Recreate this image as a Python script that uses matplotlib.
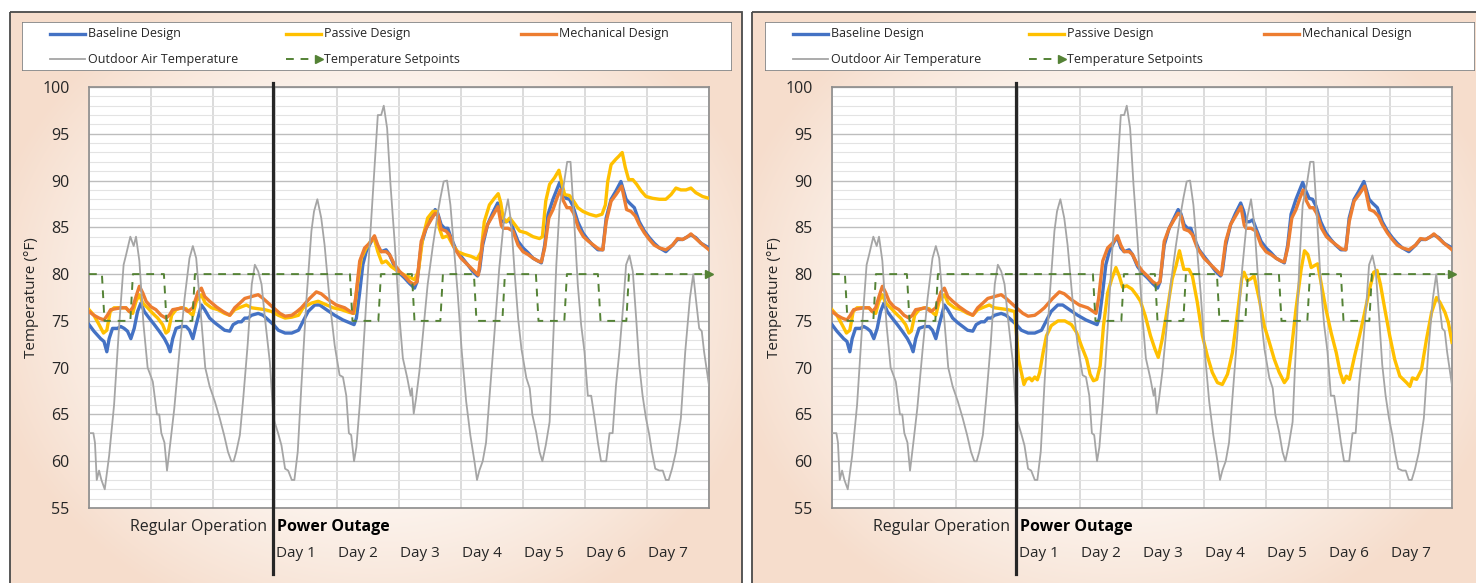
import numpy as np
import matplotlib.pyplot as plt
import matplotlib
from matplotlib.patches import Rectangle
from matplotlib.lines import Line2D

matplotlib.rcParams['font.family'] = ['Open Sans', 'DejaVu Sans']

# ---- data (hours since start, deg F) ----
outdoor_h = [0, 1.7, 2.3, 3, 3.9, 4.8, 6.1, 7.8, 9.7, 11.7, 13.4, 14.3, 16, 17.3, 18.2, 19.5, 21.1, 22.7,
             24.7, 26.3, 27.2, 28, 29.2, 30.2, 31.5, 33, 35, 37, 38.9, 40.2, 41.5, 43.2, 45, 46.7,
             48.7, 50.6, 52.3, 53.8, 55.1, 56, 57, 58.4, 59.7, 61.4, 63, 64.2, 65.5, 66.8, 68.1, 70, 71.4,
             73.2, 74.5, 75.9, 77.1, 78.5, 79.5, 80.8, 82.2, 84.2, 86.1, 87.1, 88.4, 89.9, 91.2, 93.2, 95.1,
             97, 98.3, 99.6, 100.6, 101.5, 102.6, 103.5, 104.8, 106.7, 108.6, 110.5, 111.8, 113.1, 114.1,
             115.4, 116.7, 118.3, 120.2, 121.5, 123.2, 124.5, 125, 125.7, 126.6, 127.9, 129.6, 131.1,
             133.1, 134.7, 136, 137.3, 138.6, 139.9, 141.2, 142.7, 144.3, 146, 147.6, 149.2, 150.2,
             151.1, 152.4, 153.7, 154.9, 156.9, 158.8, 160.7, 162.2, 163.5, 164.8, 166.1, 167.4, 169.3,
             170.6, 171.6, 173.1, 174.4, 175.5, 176.8, 178.3, 179.6, 180.9, 182.2, 183.8, 185.1, 186.4,
             187.6, 189.2, 190.5, 191.8, 193.1, 194.4, 195.7, 197, 198.2, 200.2, 201.5, 202.7, 204,
             205.3, 206.9, 207.9, 209.2, 210.5, 211.8, 213, 214.3, 215.6, 216.9, 217.9, 219.2, 220.8,
             222.1, 223.3, 224.4, 225.7, 227.2, 229.1, 230.8, 232.6, 233.9, 234.9, 236.2, 237.2, 238.1, 240]
outdoor_t = [63, 63, 62, 58, 59, 58, 57, 60.6, 66, 74.6, 81, 82, 84, 83, 84, 81.4, 74.6, 70,
             68.5, 65, 65, 63, 62, 59, 62, 65.6, 71.7, 77.4, 81.7, 83, 81.7, 76, 70, 68,
             66.4, 64.6, 62.8, 61, 60, 60, 61, 62.8, 66.7, 72.4, 78.9, 81, 80.3, 78.9, 75.3, 70.6, 64.6,
             63, 61.7, 59.2, 59, 58, 58, 61, 68, 77.4, 84.6, 86.7, 88, 86, 83.1, 77, 72.4,
             69.2, 69, 67, 63, 62.8, 60, 61.5, 66, 74.2, 83, 91.4, 97, 97, 98,
             95.6, 89.6, 83.5, 75.3, 71, 68.9, 67, 67.8, 65.1, 66.7, 69.6, 74.6, 78.9,
             83, 86, 88.1, 89.9, 90, 87.4, 83, 78, 71.7, 66.4, 62.8, 60, 58,
             59, 60, 62, 66.4, 73.5, 80.6, 86, 88, 85.3, 80, 75.3, 72, 68.9,
             67.8, 65, 63.1, 61, 60, 61.7, 64.2, 72.4, 81, 87.4, 89.6, 92, 92,
             86.7, 78.9, 74.6, 71.7, 67, 67, 64.6, 62, 60, 60, 63, 63, 68.1,
             71.7, 77, 81, 82, 80.3, 75.3, 70.3, 67, 64.6, 62.8, 61, 59.2, 59,
             59, 58, 58, 59.2, 61, 64.6, 71.7, 77.4, 80, 77.4, 74.2, 73.9, 71.7, 68.1]

baseline_h = [0, 1.9, 4.5, 5.8, 6.9, 7.8, 9.1, 11, 12.3, 13.6, 14.9, 16.2, 17.5, 18.8, 20.1, 21.4, 23.3,
              25.3, 27.2, 29.2, 30.5, 31.4, 32.4, 33.7, 35.7, 37.6, 38.9, 40.2, 41.5, 43.5, 44.8, 46.7,
              48.7, 50.6, 52.5, 54.5, 55.8, 57.7, 59, 60.3, 61.6, 62.9, 65.5, 67.4, 69.4, 71.4, 73.3,
              75.9, 78.5, 81.1, 82.2, 84.8, 87.4, 89.3, 91.9, 95.1, 98.3, 100.9, 102.6, 103.5, 104.8,
              106, 107.3, 109.3, 110.5, 111.8, 113.1, 115, 116.3, 118.3, 120.2, 122.1, 124.1, 126,
              127, 128.6, 130.5, 132.4, 134, 135, 136.3, 137.6, 138.9, 140.1, 142.1, 144, 146.6, 148.5,
              150.4, 151.2, 152.4, 154.3, 156.2, 158.2, 159.4, 160.3, 161.6, 162.9, 164.1, 166.1, 168,
              169.9, 171.9, 173.8, 175.1, 176.4, 177.7, 179.6, 180.9, 182.2, 183.4, 184.7, 186, 187.3,
              189.2, 191.2, 193.1, 195, 197, 198.9, 200.2, 202.1, 204, 205.9, 207.9, 209.2, 211.1, 213,
              215, 216.9, 218.8, 220.8, 223.3, 225.9, 227.8, 229.8, 231.7, 233, 234.9, 236.9, 240]
baseline_t = [74.6, 73.9, 73.1, 72.8, 71.7, 73.1, 74.2, 74.2, 74.4, 74.2, 73.9, 73.1, 74.2, 76, 76.9, 76, 75.3,
              74.6, 73.9, 73.1, 72.4, 71.7, 73.1, 74.2, 74.4, 74.4, 74, 73.1, 74.6, 76.7, 76.2, 75.3,
              74.8, 74.4, 74, 73.9, 74.6, 74.9, 74.9, 75.3, 75.3, 75.6, 75.8, 75.6, 75.1, 74.6, 74,
              73.7, 73.7, 74, 74.6, 76, 76.7, 76.7, 76.2, 75.6, 75.1, 74.8, 74.6, 75.3, 78.1,
              81, 82.4, 83.5, 83.9, 82.8, 82.4, 82.6, 82.1, 80.8, 80.1, 79.6, 79, 78.5,
              79.2, 83.1, 84.9, 86, 86.9, 86.5, 85.3, 84.9, 84.9, 83.9, 82.6, 81.9, 81, 80.3,
              79.8, 80.5, 83.1, 85.3, 86.5, 87.6, 86.7, 85.6, 85.6, 85.8, 84.9, 83.5, 82.8,
              82.3, 81.7, 81.4, 81.2, 83.1, 86.4, 88, 88.9, 89.8, 88.9, 88.1, 88, 87.3,
              85.6, 84.4, 83.7, 83.1, 82.6, 82.6, 86, 88, 88.9, 89.9, 88, 87.6, 87.1, 85.6,
              84.6, 83.9, 83.3, 82.8, 82.4, 83.1, 83.7, 83.7, 84, 84.2, 83.9, 83.3, 82.8]

mech_h = [0, 1.9, 3.9, 5.8, 7.1, 8.4, 10.4, 12.3, 14.3, 15.6, 16.9, 18.2, 19.5, 20.8, 22.1, 24, 25.9,
          27.9, 29.8, 31.1, 32.4, 34.4, 36.3, 38.3, 40.2, 42.2, 43.5, 44.8, 46.7, 49.3, 51.9, 54.5,
          56.4, 58.4, 60.3, 62.9, 65.5, 67.4, 69.4, 71.4, 73.9, 75.9, 78.5, 80.5, 82.2, 85.4, 88,
          89.9, 92.5, 95.7, 99, 102.2, 103.2, 104.8, 106.7, 108.6, 110.5, 111.8, 113.1, 115, 116.3,
          118.3, 120.2, 122.1, 124.1, 125.7, 127, 128.6, 130.5, 132.4, 134, 135.2, 136.3, 138.2,
          139.5, 141.4, 144, 146.6, 149.2, 150.7, 152.4, 154.3, 156.2, 158.3, 159.6, 160.3, 162.2,
          164.1, 166.1, 168, 169.9, 171.9, 173.8, 175.1, 176.4, 178, 179.6, 181.1, 182.4, 183.7, 185,
          186.3, 187.6, 189.5, 191.4, 193.4, 195.3, 197.2, 198.9, 200.2, 202.1, 204, 206.2, 208.1,
          209.8, 211.5, 213, 215, 216.9, 218.8, 220.8, 223.3, 225.9, 227.8, 229.8, 231.7, 233, 234.9,
          236.9, 240]
mech_t = [76, 75.6, 75.3, 75.1, 75.6, 76.2, 76.3, 76.4, 76.4, 76, 76.4, 77.6, 78.7, 78, 77.1, 76.5, 76.2,
          75.6, 75.3, 75.6, 76.2, 76.3, 76.4, 76, 76.4, 78.1, 78.5, 77.6, 77.1, 76.5, 76, 75.6,
          76.4, 76.9, 77.4, 77.6, 77.8, 77.4, 76.9, 76.4, 75.8, 75.5, 75.6, 76, 76.4, 77.4, 78.1,
          77.9, 77.3, 76.7, 76.4, 75.8, 77.4, 81.4, 82.8, 83.3, 84.1, 83.1, 82.4, 82.4, 82.1,
          81, 80.3, 79.8, 79.2, 78.9, 79.2, 83.5, 84.9, 85.8, 86.5, 86.2, 84.8, 84.6,
          84.2, 82.8, 81.7, 81, 80.3, 79.9, 83.5, 85.3, 86.2, 87.2, 85.2, 84.9, 84.9,
          84.6, 83.1, 82.4, 82.1, 81.7, 81.4, 81.3, 82.8, 86, 86.9, 88.1, 89, 87.8, 87.1,
          87.1, 86.5, 84.9, 84, 83.5, 83.1, 82.7, 82.6, 85.6, 87.8, 88.5, 89.4, 86.9,
          86.7, 86.2, 85.3, 84.4, 83.7, 83.1, 82.8, 82.6, 83.1, 83.8, 83.7, 84, 84.3, 83.8,
          83.3, 82.6]

# passive design, left chart
passive_h = [0, 1.9, 3.9, 5.6, 6.9, 8.2, 9.7, 12.3, 14.3, 15.6, 16.9, 18.2, 19.5, 20.8, 22.7, 24.7, 26.6,
             28.5, 29.8, 30.7, 32, 33.7, 35.7, 37.6, 39.3, 40.2, 41.5, 43.5, 45, 47.4, 49.9, 52.5, 54.5,
             56.4, 59, 60.9, 62.9, 65.5, 68.1, 70.7, 73.3, 75.9, 78.5, 81.1, 82.9, 86.1, 88.7, 91.2,
             94.5, 97.7, 100.9, 102.6, 103.9, 105.4, 107.3, 109, 110.3, 111.8, 113.4, 115, 117, 119.6,
             122.1, 124.7, 126, 127.5, 129.2, 131.1, 133.1, 134.7, 135.6, 136.9, 138.9, 140.8, 142.7,
             145.3, 147.9, 150.2, 151.8, 153, 155, 156.9, 158.4, 159.4, 160.3, 161.6, 162.9, 164.8,
             166.7, 169.3, 171.9, 174.4, 175.5, 176.8, 178.3, 180.2, 181.9, 182.8, 184.1, 186, 187.6,
             189.2, 191.2, 193.7, 196.3, 198.6, 199.9, 200.8, 202.1, 204, 205.1, 206.4, 207.6, 208.9,
             210.5, 212, 213.7, 215.6, 218.2, 220.8, 223.3, 225.3, 227.2, 229.1, 231.1, 233, 234.9,
             237.5, 240]
passive_t = [76.2, 75.6, 74.6, 73.7, 74, 76, 76.4, 76.4, 76.4, 76, 75.8, 77.1, 77.8, 76.9, 76.4, 75.8, 75.3,
             74.6, 73.7, 73.9, 75.6, 76.2, 76.4, 76.3, 75.8, 75.6, 77.1, 77.8, 76.9, 76.4, 76.2, 75.8, 75.6,
             76.2, 76.5, 76.7, 76.4, 76.3, 76.2, 76, 75.6, 75.3, 75.4, 75.6, 76.4, 76.9, 77.1, 76.8,
             76.4, 76.2, 75.9, 75.8, 78.9, 81.7, 82.8, 83.5, 83.9, 82.4, 81.2, 81.4, 80.8, 80.3,
             79.9, 79.6, 79.4, 80.3, 83.9, 86, 86.7, 86.7, 84.9, 83.9, 84.1, 83.1, 82.4,
             82.1, 81.9, 81.6, 82.4, 85.6, 87.4, 88.1, 88.6, 87.6, 86, 85.6, 86, 85.3,
             84.6, 84.4, 84, 83.8, 84, 87.8, 89.6, 90.3, 91.1, 90, 88.5, 88.4, 87.8,
             87.1, 86.7, 86.4, 86.2, 86.4, 87.4, 89.9, 91.7, 92.3, 92.6, 93, 91.4, 90.1,
             90.1, 89.6, 88.9, 88.3, 88.1, 88, 88, 88.5, 89.2, 89, 89, 89.2, 88.7,
             88.3, 88.1]

# passive design, right chart (after the outage starts)
passive2_h = [72.2, 73.3, 74.3, 75.2, 76.5, 77.4, 78.5, 79.5, 80.4, 81.7, 83, 84.9, 87.5, 90.1, 92.7, 94.7,
              96.6, 98.6, 99.9, 101.2, 102.5, 103.8, 105.1, 106.7, 108.3, 109.9, 111.2, 112.5, 114.1,
              116.1, 118, 119.4, 121.3, 123.3, 125, 126.3, 127.8, 129.8, 131.7, 133.2, 134.5, 136.2,
              138.2, 139.5, 141.4, 143.4, 145.3, 147.2, 149.2, 151.1, 153.1, 155, 157, 158.6, 159.5,
              160.8, 162.1, 163.4, 165.4, 167.3, 169.3, 171.2, 173.1, 175.1, 176.4, 177.7, 179.6, 181.6,
              182.9, 184.2, 185.5, 186.7, 188, 189.3, 191.2, 193.2, 195.2, 196.7, 198, 199.1, 200.3,
              202.3, 204.2, 206.2, 208.1, 209.7, 211, 212.3, 214, 215.9, 217.8, 219.8, 221.1, 222.4,
              223.7, 224.7, 226.3, 228.2, 230.1, 232.1, 234, 235.3, 237.3, 238.6, 240]
passive2_t = [70.9, 69.5, 68.2, 68.75, 68.9, 68.6, 69, 68.7, 69.5, 71.6, 73.4, 74.5, 75, 75, 74.6, 73.75,
              72.3, 70.9, 69.3, 68.6, 68.75, 70.2, 74.5, 78, 79.5, 80.7, 79.8, 78.6, 78.75,
              78.4, 77.7, 77.1, 75.5, 73.4, 72, 71.1, 73, 76.25, 79.5, 80.9, 82.5, 80.5,
              80.5, 79.8, 77, 73.4, 71.25, 69.5, 68.4, 68.2, 69.3, 71.6, 75.9, 79.5, 80.2,
              79.3, 79.5, 79.8, 77.3, 74.5, 72.7, 70.9, 69.5, 68.4, 68.9, 71.6, 76.25, 80.5,
              82.5, 82.1, 80.7, 80.9, 81.1, 79.1, 76.25, 73.75, 71.6, 69.5, 68.4, 69.1, 68.75,
              71.25, 73.4, 75.9, 78.4, 80.2, 80.4, 78.9, 76.25, 73.4, 70.9, 69.1, 68.75, 68.4,
              68, 68.9, 68.75, 69.8, 73, 75.9, 77.5, 77, 75.9, 74.8, 72.7]

setpoint_h = [0, 5, 6, 16, 17, 29, 30, 40, 41, 101, 102, 112, 113, 125, 126, 136, 137,
              149, 150, 160, 161, 173, 174, 184, 185, 197, 198, 208, 209, 240]
setpoint_t = [80, 80, 75, 75, 80, 80, 75, 75, 80, 80, 75, 75, 80, 80, 75, 75, 80,
              80, 75, 75, 80, 80, 75, 75, 80, 80, 75, 75, 80, 80]

outage_start = 71.3
day_names = ['Day 1', 'Day 2', 'Day 3', 'Day 4', 'Day 5', 'Day 6', 'Day 7']

c_base = '#4472C4'
c_pass = '#FFC000'
c_mech = '#ED7D31'
c_out = '#A5A5A5'
c_sp = '#548235'

W, H = 1476, 583
fig = plt.figure(figsize=(W / 100, H / 100), dpi=100)


def px_box(x0, y0, x1, y1):
    return [x0 / W, 1 - y1 / H, (x1 - x0) / W, (y1 - y0) / H]


# background with soft peach vignette per panel
bg = fig.add_axes([0, 0, 1, 1], zorder=-10)
bg.set_xlim(0, W)
bg.set_ylim(H, 0)
bg.axis('off')
yy, xx = np.mgrid[0:H, 0:W]
img = np.ones((H, W, 3))
edge = np.array([246, 221, 204]) / 255.0
centre = np.array([254, 252, 250]) / 255.0
for x0 in (10, 752):
    cx, cy = x0 + 366, 300
    r = np.sqrt(((xx - cx) / 380.0) ** 2 + ((yy - cy) / 330.0) ** 2)
    t = np.clip((r - 0.35) / 0.7, 0, 1) ** 1.3
    inside = (xx >= x0) & (xx < x0 + 732) & (yy >= 12)
    for k in range(3):
        img[..., k] = np.where(inside, centre[k] * (1 - t) + edge[k] * t, img[..., k])
bg.imshow(img, extent=(0, W, H, 0), aspect='auto', interpolation='bilinear')
for x0 in (10, 752):
    bg.add_patch(Rectangle((x0, 12), 732, 620, fill=False, ec='#4a4a4a', lw=1.3))


def draw_panel(dx, passive_x, passive_y):
    ax = fig.add_axes(px_box(89 + dx, 87, 709 + dx, 508))
    ax.set_facecolor('white')
    ax.set_xlim(0, 240)
    ax.set_ylim(55, 100)
    ax.set_yticks(range(55, 101, 5))
    ax.set_yticks(range(55, 101), minor=True)
    ax.set_xticks(range(0, 241, 24))
    ax.grid(axis='y', which='minor', color='#e3e3e3', lw=0.8)
    ax.grid(axis='y', which='major', color='#bdbdbd', lw=1.0)
    ax.grid(axis='x', which='major', color='#d6d6d6', lw=1.2)
    ax.set_axisbelow(True)
    ax.tick_params(axis='x', length=0, labelbottom=False)
    ax.tick_params(axis='y', which='both', length=0, pad=14, labelsize=11.5, labelcolor='#262626')
    for s in ax.spines.values():
        s.set_color('#8c8c8c')
        s.set_linewidth(1.2)

    ax.plot(baseline_h, baseline_t, color=c_base, lw=2.4, zorder=3)
    ax.plot(passive_x, passive_y, color=c_pass, lw=2.4, zorder=4)
    ax.plot(mech_h, mech_t, color=c_mech, lw=2.4, zorder=5)
    ax.plot(outdoor_h, outdoor_t, color=c_out, lw=1.3, zorder=6)
    ax.plot(setpoint_h, setpoint_t, color=c_sp, lw=1.4, ls=(0, (4, 3.5)), zorder=7)
    ax.plot(setpoint_h[-1:], setpoint_t[-1:], marker='>', color=c_sp, ms=6, ls='none',
            clip_on=False, zorder=8)

    tr = ax.get_xaxis_transform()
    ax.plot([outage_start, outage_start], [-0.157, 1.009], color='#262626', lw=2.3,
            transform=tr, clip_on=False, zorder=9)
    ax.text(outage_start - 2.5, -0.045, 'Regular Operation', transform=tr, ha='right',
            va='center', fontsize=11.5, color='#262626')
    ax.text(outage_start + 1.5, -0.045, 'Power Outage', transform=tr, ha='left',
            va='center', fontsize=11.5, fontweight='bold', color='black')
    for i, name in enumerate(day_names):
        ax.text(72 + 24 * i + 0.4, -0.107, name, transform=tr, ha='left', va='center',
                fontsize=11, color='#262626')
    ax.text(-0.0935, 0.5, 'Temperature (°F)', transform=ax.transAxes, rotation=90,
            ha='center', va='center', fontsize=11, color='#262626')

    # legend box
    lg = fig.add_axes(px_box(22 + dx, 22, 732 + dx, 71))
    lg.set_xlim(0, 710)
    lg.set_ylim(49, 0)
    lg.axis('off')
    lg.add_patch(Rectangle((0, 0), 710, 49, fc='white', ec='#7f7f7f', lw=1.2))
    items = [(c_base, 2.4, '-', 'Baseline Design', 28, 12),
             (c_pass, 2.4, '-', 'Passive Design', 264, 12),
             (c_mech, 2.4, '-', 'Mechanical Design', 499, 12),
             (c_out, 1.3, '-', 'Outdoor Air Temperature', 28, 37),
             (c_sp, 1.4, (0, (4, 3.5)), 'Temperature Setpoints', 264, 37)]
    for col, lw, ls, label, x, y in items:
        lg.add_line(Line2D([x, x + 35], [y, y], color=col, lw=lw, ls=ls))
        if label == 'Temperature Setpoints':
            lg.plot([x + 33], [y], marker='>', color=c_sp, ms=5.5)
        lg.text(x + 38, y, label, ha='left', va='center', fontsize=9, color='#262626')
    return ax


draw_panel(0, passive_h, passive_t)
pre = [i for i, h in enumerate(passive_h) if h <= outage_start]
draw_panel(743, [passive_h[i] for i in pre] + passive2_h, [passive_t[i] for i in pre] + passive2_t)

fig.savefig('out.png', dpi=100)
